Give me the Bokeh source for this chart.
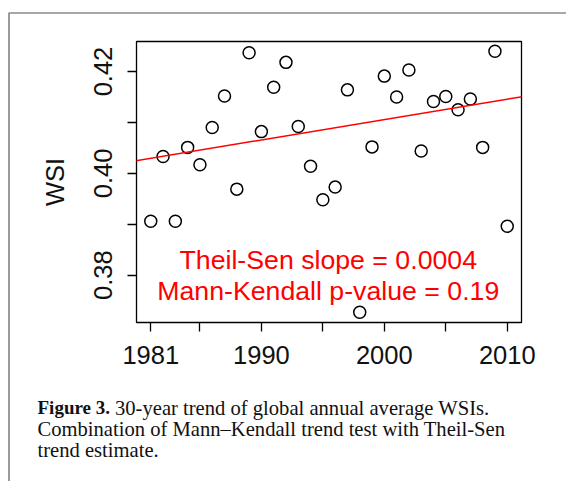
from bokeh.plotting import figure
from bokeh.models import FixedTicker, Label, Slope, Range1d
from bokeh.core.properties import value
from bokeh.embed import file_html
from bokeh.resources import INLINE

# ---- data ----
years = list(range(1981, 2011))
wsi = [0.3906, 0.4033, 0.3906, 0.4051, 0.4017, 0.4090, 0.4152, 0.3969, 0.4237, 0.4082,
       0.4169, 0.4218, 0.4092, 0.4014, 0.3948, 0.3973, 0.4164, 0.3727, 0.4052, 0.4191,
       0.4150, 0.4203, 0.4044, 0.4141, 0.4151, 0.4125, 0.4146, 0.4051, 0.4240, 0.3896]
x_major = [1981, 1990, 2000, 2010]
x_minor = [1985, 1995, 2005]
y_major = [0.38, 0.40, 0.42]
y_minor = [0.39, 0.41]
trend_slope = 0.0004
trend_at_1981 = 0.40296
stat_lines = ["Theil-Sen slope = 0.0004", "Mann-Kendall p-value = 0.19"]
caption_bold = "Figure 3."
caption_lines = ["30-year trend of global annual average WSIs.",
                 "Combination of Mann\u2013Kendall trend test with Theil-Sen",
                 "trend estimate."]

SANS = "Liberation Sans"
SERIF = "Liberation Serif"

FW, FH = 385, 281  # plot frame size in px
p = figure(width=566, height=481, output_backend="svg", toolbar_location=None,
           x_range=Range1d(1979.84, 2011.16), y_range=Range1d(0.3707, 0.4259),
           min_border_left=136, min_border_right=45, min_border_top=41, min_border_bottom=159)
# pixel-based helper ranges (relative to the frame's bottom-left corner) for caption/frame decoration
p.extra_x_ranges = {"px": Range1d(0, FW)}
p.extra_y_ranges = {"px": Range1d(0, FH)}
p.background_fill_color = "white"
p.border_fill_color = "white"
p.outline_line_color = "black"
p.outline_line_width = 1.3
p.xgrid.visible = False
p.ygrid.visible = False

for ax in (p.xaxis[0], p.yaxis[0]):
    ax.axis_line_color = None
    ax.major_tick_out = 9
    ax.major_tick_in = 0
    ax.minor_tick_out = 9
    ax.minor_tick_in = 0
    ax.major_tick_line_color = "black"
    ax.minor_tick_line_color = "black"
    ax.major_tick_line_width = 1.3
    ax.minor_tick_line_width = 1.3
    ax.major_label_text_font = SANS
    ax.major_label_text_font_size = "25.5px"
    ax.major_label_text_color = "#111111"

p.xaxis[0].major_label_standoff = 14
p.yaxis[0].major_label_standoff = 15
p.xaxis[0].ticker = FixedTicker(ticks=x_major, minor_ticks=x_minor)
p.yaxis[0].ticker = FixedTicker(ticks=y_major, minor_ticks=y_minor)
p.yaxis[0].major_label_orientation = "vertical"
p.yaxis[0].major_label_overrides = {v: f"{v:.2f}" for v in y_major}
p.yaxis[0].axis_label = "WSI"
p.yaxis[0].axis_label_text_font = SANS
p.yaxis[0].axis_label_text_font_size = "25.5px"
p.yaxis[0].axis_label_text_font_style = "normal"
p.yaxis[0].axis_label_text_color = "#111111"
p.yaxis[0].axis_label_standoff = 23

p.add_layout(Slope(gradient=trend_slope, y_intercept=trend_at_1981 - trend_slope * 1981,
                   line_color="#ff0000", line_width=1.5))

p.scatter(years, wsi, marker="circle", size=12, fill_color=None,
          line_color="black", line_width=1.5)

for t, yv in zip(stat_lines, [0.38299, 0.37696]):
    p.add_layout(Label(x=1995.44, y=yv, text=t, text_align="center",
                       text_baseline="alphabetic", text_color="#ff0000",
                       text_font=SANS, text_font_size="26.7px"))

# outer gray frame (left and top edges), drawn outside the plot frame
p.line(x=[-127.5, -127.5, 600], y=[-250, 309.5, 309.5], x_range_name="px", y_range_name="px",
       line_color="#8a8a8a", line_width=1.7, level="annotation")

# caption
p.text(x=[-99], y=[-85], text=[caption_bold], x_range_name="px", y_range_name="px",
       text_font=value(SERIF), text_font_style="bold", text_font_size=value("19px"),
       text_color="#111111", text_baseline="alphabetic", level="annotation")
p.text(x=[-21.5, -99, -99], y=[-85, -106, -127], text=caption_lines,
       x_range_name="px", y_range_name="px",
       text_font=value(SERIF), text_font_size=value("20.6px"),
       text_color="#111111", text_baseline="alphabetic", level="annotation")

open("out.html", "w").write(file_html(p, INLINE))
